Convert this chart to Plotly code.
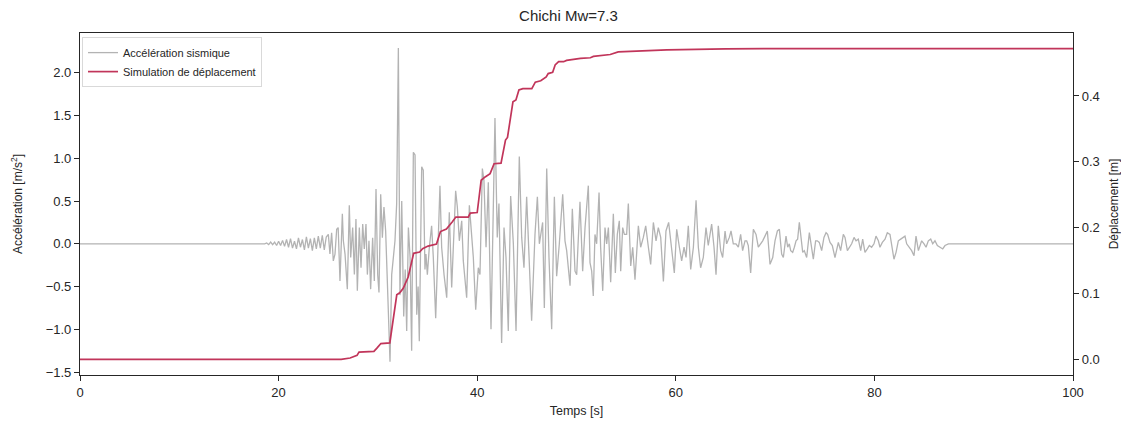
import plotly.graph_objects as go

# ---- Data ----
acc_t = [0, 18.5, 18.6, 18.8, 19.0, 19.2, 19.4, 19.6, 19.8, 20.0, 20.2, 20.4, 20.6, 20.8, 21.0, 21.2,
         21.4, 21.6, 21.8, 22.0, 22.2, 22.4, 22.6, 22.8, 23.0, 23.2, 23.4, 23.6, 23.8, 24.0, 24.2, 24.4,
         24.6, 24.8,
         25.01, 25.17, 25.34, 25.51, 25.68, 25.85, 26.0, 26.18, 26.42, 26.52, 26.69, 26.92, 27.12, 27.26,
         27.46, 27.63, 27.79, 27.93, 28.13, 28.30, 28.47, 28.63, 28.80, 28.94, 29.10, 29.27, 29.47, 29.64,
         29.81, 29.98, 30.11, 30.28, 30.45, 30.61, 30.78, 30.95, 31.22, 31.39, 31.55, 31.72, 31.89, 32.06,
         32.22, 32.4, 32.6, 32.75, 32.9, 33.07, 33.24, 33.4, 33.57, 33.74, 33.91, 34.05, 34.17, 34.41,
         34.57, 34.74, 34.84, 34.98, 35.18, 35.41, 35.58, 35.82, 36.25, 36.42, 36.66, 36.93, 37.19, 37.43,
         37.83, 38.0, 38.2, 38.44, 38.60, 38.94, 39.21, 39.44, 39.61, 39.85, 40.11, 40.28, 40.52, 40.68,
         40.89, 41.12, 41.29, 41.39, 41.56, 41.79, 42.02, 42.19, 42.46, 42.70, 42.90, 43.13, 43.37, 43.64,
         43.91, 44.24, 44.48, 44.71, 44.98, 45.25, 45.48, 45.82, 46.06, 46.26, 46.59, 46.76, 47.0, 47.23,
         47.50, 47.77, 48.0, 48.27, 48.61, 48.84, 49.01, 49.35, 49.58, 49.85, 50.02, 50.35, 50.62, 50.86,
         51.19, 51.36, 51.53, 51.69, 51.86, 52.03, 52.27, 52.43, 52.64, 52.87, 53.04, 53.21, 53.44, 53.71,
         53.91, 54.11, 54.31, 54.45, 54.65, 54.82, 55.05, 55.22, 55.46, 55.66, 55.89, 56.23, 56.46, 56.73,
         56.97, 57.24, 57.47, 57.74, 58.01, 58.24, 58.48, 58.75, 59.01, 59.28, 59.48, 59.68, 59.85, 60.09,
         60.36, 60.59, 60.83, 61.03, 61.26, 61.50, 61.77, 62.04, 62.27, 62.50, 62.77, 63.04, 63.27, 63.61,
         63.85, 64.05, 64.28, 64.52, 64.72, 64.96, 65.12, 65.39, 65.56, 65.79, 66.06, 66.30, 66.53, 66.73,
         66.97, 67.14, 67.30, 67.54, 67.81, 68.08, 68.31, 68.55, 68.75, 68.98, 69.22, 69.49, 69.76, 69.99,
         70.23, 70.43, 70.66, 70.83, 71.10, 71.27, 71.43, 71.57, 71.77, 71.94, 72.11, 72.27, 72.44, 72.61,
         72.78, 72.94, 73.18, 73.45, 73.68, 73.85, 74.08, 74.25, 74.45, 74.69, 74.92, 75.13, 75.29, 75.53,
         75.76, 76.03, 76.37, 76.60, 76.87, 77.04, 77.28, 77.48, 77.71, 77.95, 78.15, 78.38, 78.62, 78.82,
         79.05, 79.29, 79.49, 79.72, 79.96, 80.16, 80.40, 80.56, 80.80, 81.07, 81.30, 81.57, 81.74, 81.97,
         82.18, 82.41, 82.65, 82.85, 83.08, 83.25, 83.52, 83.75, 83.99, 84.19, 84.43, 84.60, 84.76, 85.0,
         85.20, 85.43, 85.67, 85.87, 86.10, 86.34, 86.61, 86.88, 87.11, 87.45, 87.79, 100]
acc_v = [0, 0, 0.0, 0.01, -0.01, 0.02, -0.01, 0.02, -0.02, 0.03, -0.02, 0.04, -0.03, 0.05, -0.04, 0.06,
         -0.05, 0.03, -0.06, 0.07, -0.04, 0.05, -0.07, 0.08, -0.05, 0.06, -0.08, 0.07, -0.06, 0.09, -0.05, 0.10,
         -0.07, 0.08,
         0.11, -0.12, 0.13, -0.20, -0.12, 0.17, 0.19, -0.435, 0.35, 0.035, -0.12, -0.53, 0.45, -0.16,
         0.19, -0.36, 0.29, -0.55, 0.19, -0.28, 0.23, -0.06, 0.23, -0.36, 0.035, -0.53, 0.07, -0.435,
         0.64, -0.36, -0.57, 0.58, 0.07, 0.43, 0.15, -0.435, -1.38, -0.36, -0.12, 0.035, 0.47, 2.29,
         -0.60, 0.50, -0.85, -0.30, -1.02, 0.19, -0.16, -1.25, 1.07, 1.04, -0.83, -0.50, -1.14, 0.90,
         0.86, -0.30, -0.12, -0.36, -0.04, 0.21, -0.16, -0.87, 0.68, -0.04, -0.36, -0.63, 0.37, -0.51,
         0.62, 0.43, 0.035, 0.27, -0.20, -0.63, 0.45, 0.075, -0.16, -0.77, -0.28, -0.36, 0.88, 0.74,
         -0.04, 0.72, -0.32, -1.00, 0.035, 1.47, 0.075, 0.47, -1.16, 0.19, -0.16, -1.02, 0.56, 0.0,
         -1.02, 1.02, 0.075, -0.28, 0.55, -0.16, -0.90, 0.11, 0.55, 0.0, 0.25, -0.75, 0.88, -0.16,
         -1.00, 0.55, -0.38, 0.0, 0.58, 0.035, -0.08, -0.49, 0.41, -0.32, -0.36, 0.49, -0.32, 0.19,
         0.68, -0.22, -0.32, -0.61, 0.11, 0.0, 0.60, -0.04, -0.55, 0.19, 0.0, 0.19, -0.45, 0.35,
         -0.34, 0.11, 0.27, -0.32, 0.19, 0.11, 0.11, 0.47, -0.26, -0.04, -0.42, 0.21, -0.04, 0.075,
         0.21, -0.04, -0.24, 0.25, 0.035, 0.19, 0.075, -0.44, 0.15, 0.25, 0.075, -0.16, -0.34, 0.17,
         -0.04, -0.20, -0.04, -0.16, 0.21, -0.30, -0.04, 0.51, -0.04, -0.28, -0.16, 0.19, -0.02, 0.23,
         -0.04, -0.36, 0.21, -0.08, -0.16, 0.15, 0.0, 0.075, 0.15, 0.0, 0.0, -0.04, 0.11, -0.08,
         0.035, 0.035, -0.02, -0.34, 0.17, 0.11, -0.04, 0.0, 0.035, 0.09, 0.15, -0.24, -0.16, 0.035,
         0.15, 0.17, -0.12, -0.16, 0.09, -0.04, 0.0, -0.08, -0.10, -0.04, 0.035, 0.055, 0.25, 0.075,
         -0.10, -0.08, -0.16, 0.13, -0.06, -0.18, 0.035, 0.035, 0.016, -0.08, 0.075, 0.13, 0.11, 0.016,
         -0.02, -0.16, 0.016, -0.08, 0.11, 0.075, -0.08, -0.04, 0.0, 0.075, 0.035, 0.055, -0.08, 0.055,
         -0.10, -0.06, -0.02, -0.04, 0.0, 0.09, 0.035, -0.04, 0.016, 0.055, 0.13, 0.11, -0.02, -0.18,
         -0.10, 0.035, 0.055, 0.075, 0.09, 0.0, -0.04, -0.08, -0.14, 0.09, -0.08, -0.02, 0.035, 0.0,
         -0.04, 0.035, 0.055, 0.0, 0.035, -0.02, -0.04, -0.06, -0.02, 0.0, 0.0, 0.0]

disp_t = [0, 26.3, 27.2, 27.9, 28.1, 29.6, 29.9, 30.3, 31.2, 31.55, 31.9, 32.2, 32.55, 33.05, 33.4,
          33.6, 34.2, 34.5, 35.05, 35.9, 36.3, 36.9, 37.5, 37.85, 39.1, 39.3, 40.0, 40.4, 40.8, 41.3,
          41.7, 42.4, 42.85, 43.05, 43.6, 43.9, 44.2, 44.6, 45.5, 45.85, 46.4, 46.95, 47.15, 47.6,
          47.85, 48.2, 48.7, 49.0, 50.4, 51.4, 51.7, 53.4, 54.2, 55.7, 59.1, 65.0, 72.5, 100]
disp_v = [0.0, 0.0, 0.002, 0.006, 0.011, 0.012, 0.017, 0.024, 0.025, 0.060, 0.098, 0.101, 0.108, 0.125, 0.146,
          0.161, 0.163, 0.168, 0.172, 0.175, 0.194, 0.198, 0.209, 0.216, 0.216, 0.222, 0.223, 0.272, 0.277, 0.282,
          0.297, 0.298, 0.333, 0.337, 0.391, 0.394, 0.409, 0.411, 0.411, 0.421, 0.423, 0.429, 0.434, 0.436,
          0.447, 0.452, 0.452, 0.454, 0.457, 0.458, 0.460, 0.463, 0.467, 0.468, 0.470, 0.4715, 0.472, 0.472]

title_text = "Chichi Mw=7.3"
x_label = "Temps [s]"
y1_label = "Accélération [m/s<sup>2</sup>]"
y2_label = "Déplacement [m]"
x_ticks = [0, 20, 40, 60, 80, 100]
y1_ticks = [-1.5, -1.0, -0.5, 0.0, 0.5, 1.0, 1.5, 2.0]
y2_ticks = [0.0, 0.1, 0.2, 0.3, 0.4]

FONT = "Liberation Sans, Arial, sans-serif"
TXT = "#262626"

fig = go.Figure()
fig.add_trace(go.Scatter(x=acc_t, y=acc_v, mode="lines", name="Accélération sismique",
                         line=dict(color="#b3b3b3", width=1.3), yaxis="y"))
fig.add_trace(go.Scatter(x=disp_t, y=disp_v, mode="lines", name="Simulation de déplacement",
                         line=dict(color="#c1355a", width=1.7), yaxis="y2"))

axis_common = dict(showline=True, linecolor="#262626", linewidth=1.2, ticks="outside",
                   ticklen=5, tickwidth=1, tickcolor="#262626", showgrid=False, zeroline=False,
                   automargin=False,
                   tickfont=dict(family=FONT, size=13, color=TXT))

# The page body has an 8px margin; the figure is sized and offset to compensate.
fig.update_layout(
    width=1121, height=413,
    margin=dict(l=72, r=56, t=25, b=46),
    paper_bgcolor="white", plot_bgcolor="white",
    title=dict(text=title_text, x=0.5, xanchor="center", y=0.981, yanchor="middle",
               font=dict(family=FONT, size=15, color=TXT)),
    xaxis=dict(range=[0, 100], tickvals=x_ticks, ticktext=[str(v) for v in x_ticks],
               mirror=True, title=dict(text=x_label, standoff=7,
                                        font=dict(family=FONT, size=12.5, color=TXT)),
               **axis_common),
    yaxis=dict(range=[-1.534, 2.465], tickvals=y1_ticks,
               ticktext=[f"{v:.1f}".replace("-", "\u2212") for v in y1_ticks],
               title=dict(text=y1_label, standoff=20, font=dict(family=FONT, size=12, color=TXT)),
               **axis_common),
    yaxis2=dict(range=[-0.0238, 0.4956], tickvals=y2_ticks,
                ticktext=[f"{v:.1f}" for v in y2_ticks], overlaying="y", side="right",
                title=dict(text=y2_label, standoff=10, font=dict(family=FONT, size=12, color=TXT)),
                **axis_common),
    legend=dict(x=0.002, y=0.988, xanchor="left", yanchor="top", bgcolor="white",
                bordercolor="#d9d9d9", borderwidth=1, itemwidth=30,
                font=dict(family=FONT, size=11, color=TXT), tracegroupgap=0),
    showlegend=True,
)

fig.write_html("out.html")
